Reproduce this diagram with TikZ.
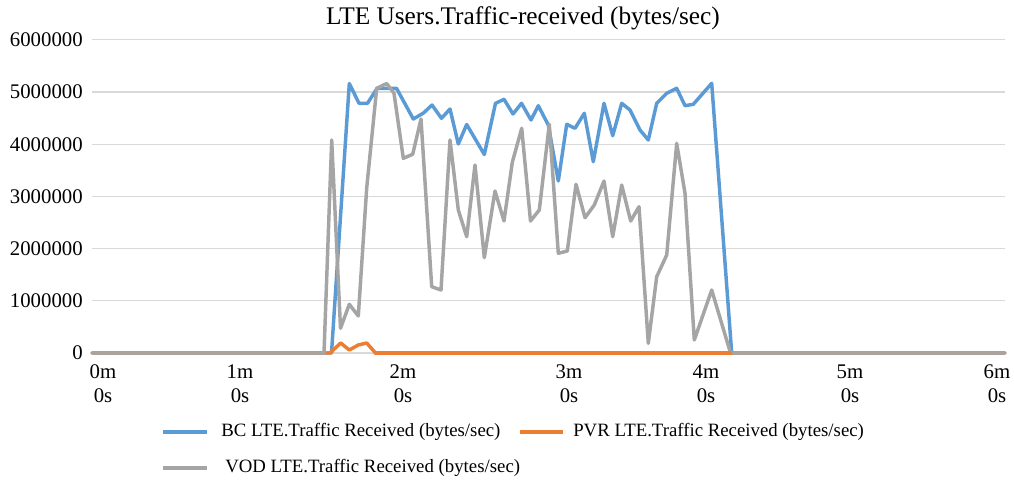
\documentclass[tikz,border=0pt]{standalone}
\usepackage{fontspec}
\setmainfont{Liberation Serif}
\definecolor{bcblue}{HTML}{5B9BD5}
\definecolor{pvrorange}{HTML}{ED7D31}
\definecolor{vodgray}{HTML}{A5A5A5}
\definecolor{gridgray}{HTML}{D9D9D9}
\begin{document}
\begin{tikzpicture}[x=0.75pt,y=-0.75pt,
  gridline/.style={draw=gridgray,line width=0.9pt},
  series/.style={line width=2.6pt,line join=round,line cap=round},
  axlabel/.style={font=\fontsize{15.6}{18}\selectfont,inner sep=0pt},
  xlabel/.style={font=\fontsize{15.6}{18}\selectfont,align=center,inner sep=0pt},
  legtext/.style={font=\fontsize{14.1}{16}\selectfont,anchor=west,inner sep=0pt},
  legline/.style={line width=2.6pt}]
\useasboundingbox (0,0) rectangle (1014,484);
% title
\node[font=\fontsize{19}{22}\selectfont,inner sep=0pt] (title) at (523,18) {LTE Users.Traffic-received (bytes/sec)};
% grid
\foreach \k in {0,...,6}{
  \draw[gridline] (92,{353-52.2*\k}) -- (1005,{353-52.2*\k});
}
% y labels
\foreach \k/\t in {0/0,1/1000000,2/2000000,3/3000000,4/4000000,5/5000000,6/6000000}{
  \node[axlabel,anchor=east] (y\k) at (83,{353-52.2*\k}) {\t};
}
% x labels
\foreach \i/\x in {0/103,1/240,2/403,3/569,4/706,5/850,6/997}{
  \node[xlabel] (x\i) at (\x,384) {\i m\\0s};
}
% series
\draw[series,bcblue] (92,353) -- (331.5,353) -- (349.3,83.5) -- (359,103.3) -- (367.5,103.3) -- (377,88.5) -- (387,88.3) -- (396.5,88.3) -- (413.3,119) -- (423.5,113) -- (432,105) -- (441.5,118.3) -- (450,109) -- (458.3,144) -- (466.7,124.5) -- (484.3,154.5) -- (495.5,103.3) -- (504,99.3) -- (513,114) -- (521.5,103.3) -- (531,120) -- (538.3,105.7) -- (548.3,125) -- (558.3,181) -- (566.7,124.3) -- (575,128.3) -- (584.3,113.3) -- (593.3,161.7) -- (604,103.3) -- (612.7,135.7) -- (621.7,103.3) -- (630,110) -- (640,130) -- (648.3,140) -- (656.7,103.3) -- (666.7,93.3) -- (676.7,88.3) -- (685,105.7) -- (693.3,104.3) -- (711.7,83.3) -- (731.7,353) -- (1005,353);
\draw[series,pvrorange] (92,353) -- (330,353) -- (340.7,343) -- (349.3,350) -- (358.3,345) -- (366.7,343) -- (375.5,353) -- (1005,353);
\draw[series,vodgray] (92,353) -- (324,353) -- (331.7,140) -- (340.5,328.3) -- (349.3,304.3) -- (358.3,316) -- (366.7,188) -- (376.7,88.3) -- (386.7,83.5) -- (394,93.3) -- (403.3,158.3) -- (412.7,154.3) -- (421,119) -- (431.7,286.7) -- (441,290) -- (450,140) -- (458.3,210) -- (466.7,236.7) -- (475,165) -- (484.3,257.7) -- (495,191) -- (504,221) -- (512.3,162.3) -- (521.7,128.3) -- (530.5,221) -- (539.3,210) -- (549.3,124.3) -- (558.3,253.3) -- (567.3,251) -- (576,184.3) -- (585,217.7) -- (594.3,205) -- (604,181) -- (612.7,236.7) -- (621.7,185) -- (630.7,221) -- (639,206.7) -- (648.3,343.3) -- (656.7,276.7) -- (666.7,255) -- (676.7,143.3) -- (685,193.3) -- (694.3,340) -- (711.7,290) -- (730.5,353) -- (1005,353);
% orange visible segment where grey is above zero
\draw[series,pvrorange] (375.5,353) -- (730.5,353);
% legend
\coordinate (lb1) at (163,432); \coordinate (lb2) at (207,432);
\draw[legline,bcblue] (lb1) -- (lb2);
\node[legtext] (lbt) at (221,432) {BC LTE.Traffic Received (bytes/sec)};
\coordinate (lo1) at (520,432); \coordinate (lo2) at (563,432);
\draw[legline,pvrorange] (lo1) -- (lo2);
\node[legtext] (lot) at (573,432) {PVR LTE.Traffic Received (bytes/sec)};
\coordinate (lv1) at (163,468); \coordinate (lv2) at (207,468);
\draw[legline,vodgray] (lv1) -- (lv2);
\node[legtext] (lvt) at (225,468) {VOD LTE.Traffic Received (bytes/sec)};
\end{tikzpicture}
\end{document}
